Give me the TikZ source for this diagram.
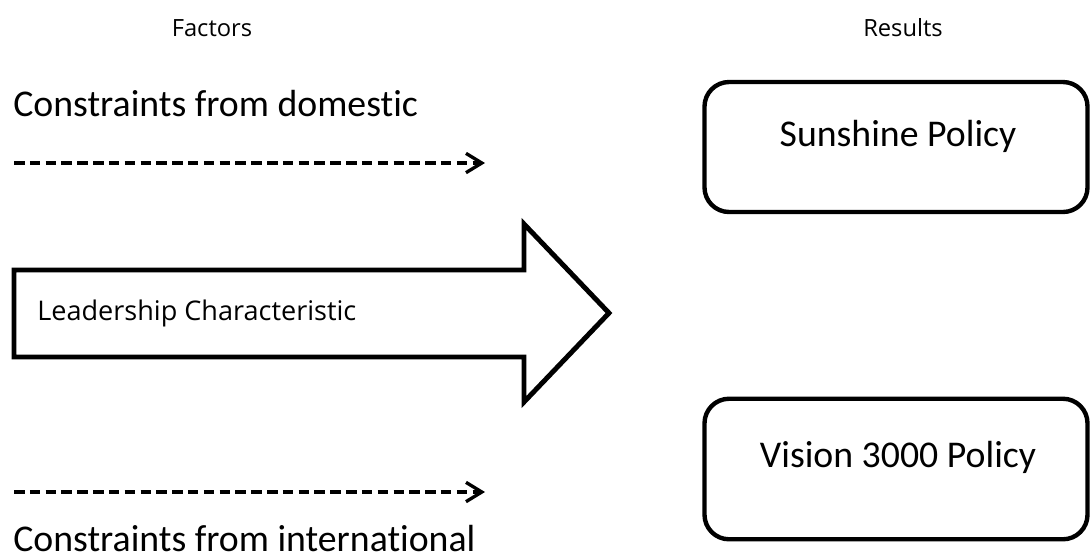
\documentclass[tikz,border=0pt]{standalone}
\usepackage{fontspec}
\setmainfont{Carlito}[Ligatures={NoCommon,NoRequired,NoContextual}]
\newfontfamily\headfont{Open Sans}
\usetikzlibrary{arrows.meta}
\definecolor{white}{RGB}{255,255,255}
\definecolor{black}{RGB}{0,0,0}

\tikzset{
	head/.style={font=\headfont\fontsize{13.5}{16}\selectfont,text=black},
	bigtext/.style={font=\fontsize{21.5}{26}\selectfont,text=black,inner sep=0pt},
	policybox/.style={draw=black,line width=2.5pt,rounded corners=14pt,fill=white,minimum width=218pt},
	dasharrow/.style={draw=black,line width=2.2pt,dash pattern=on 6pt off 3pt,-{Straight Barb[length=9pt,width=11pt,line width=1.9pt]}}
}

\begin{document}
\begin{tikzpicture}[x=0.02cm,y=-0.02cm]
	\useasboundingbox[fill=white] (0,0) rectangle (1091,559);
	
	\node[head] (factors) at (212,28) {Factors};
	\node[head] (results) at (903,28) {Results};
	
	\node[bigtext,anchor=base west] (domestic) at (13,116) {Constraints from domestic};
	\node[bigtext,anchor=base west] (international) at (13,551) {Constraints from international};
	
	\coordinate (d1) at (14,163);
	\coordinate (d2) at (485,163);
	\coordinate (i1) at (14,492);
	\coordinate (i2) at (485,492);
	\draw[dasharrow] (d1) -- (d2);
	\draw[dasharrow] (i1) -- (i2);
	
	\draw[black,line width=2.8pt,fill=white,line join=miter] (14,270) -- (524,270) -- (524,224) -- (609,313) -- (524,402) -- (524,357) -- (14,357) -- cycle;
	\node[font=\headfont\fontsize{15.4}{18}\selectfont,anchor=base west,inner sep=0pt] (leader) at (37,320) {Leadership Characteristic};
	
	\node[policybox,minimum height=74pt] (sunbox) at (896,147) {};
	\node[bigtext] (sunshine) at (898,136) {Sunshine Policy};
	\node[policybox,minimum height=80pt] (visbox) at (896,469) {};
	\node[bigtext] (vision) at (898,457) {Vision 3000 Policy};
\end{tikzpicture}
\end{document}
